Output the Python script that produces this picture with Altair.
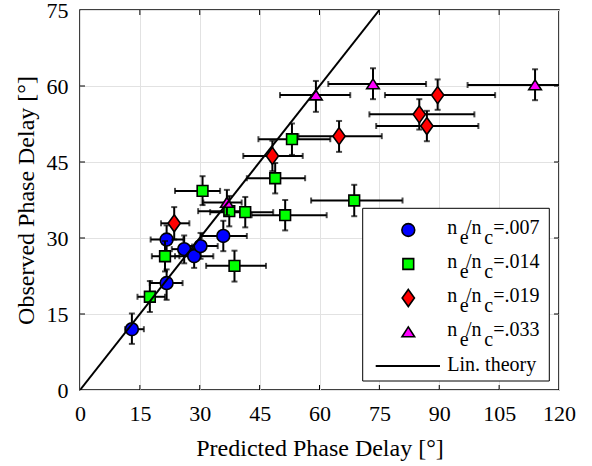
import altair as alt
import pandas as pd

# ---------------- data ----------------
# n_e/n_c = .007 (blue circles)
b_x   = [13.0, 21.7, 21.7, 26.1, 28.6, 30.2, 35.9]
b_y   = [12.0, 29.7, 21.1, 27.8, 26.4, 28.4, 30.4]
b_xlo = [11.3, 17.7, 17.5, 23.0, 23.8, 26.0, 30.5]
b_xhi = [16.0, 25.9, 25.7, 30.0, 33.4, 34.5, 41.8]
b_ylo = [9.1, 27.0, 17.8, 25.0, 24.1, 25.9, 27.4]
b_yhi = [15.1, 32.5, 23.8, 30.5, 28.7, 31.0, 33.4]

# n_e/n_c = .014 (green squares)
g_x   = [17.5, 21.3, 30.7, 37.4, 41.4, 38.7, 51.4, 68.7, 48.9, 53.1]
g_y   = [18.4, 26.4, 39.3, 35.3, 35.1, 24.5, 34.5, 37.4, 41.8, 49.5]
g_xlo = [14.4, 18.0, 23.8, 29.6, 32.6, 31.6, 43.0, 57.9, 41.8, 44.7]
g_xhi = [21.3, 24.9, 35.1, 42.6, 48.4, 46.6, 61.8, 80.8, 56.4, 62.7]
g_ylo = [15.4, 23.4, 36.5, 32.3, 32.1, 21.4, 31.5, 34.3, 38.8, 46.4]
g_yhi = [21.5, 29.4, 42.2, 38.3, 38.1, 27.5, 37.5, 40.5, 44.8, 52.6]

# n_e/n_c = .019 (red diamonds)
r_x   = [23.6, 48.2, 64.9, 89.6, 85.0, 86.9]
r_y   = [32.9, 46.2, 50.1, 58.2, 54.4, 52.1]
r_xlo = [20.3, 40.9, 54.7, 76.4, 72.5, 74.2]
r_xhi = [27.4, 55.8, 75.6, 104.0, 98.8, 99.8]
r_ylo = [29.7, 43.2, 47.0, 55.3, 51.4, 49.1]
r_yhi = [36.1, 49.2, 53.1, 61.3, 57.4, 55.1]

# n_e/n_c = .033 (magenta triangles)
m_x   = [36.8, 59.1, 73.4, 114.0]
m_y   = [37.0, 58.2, 60.4, 60.2]
m_xlo = [30.9, 50.1, 62.2, 97.1]
m_xhi = [40.5, 67.7, 86.7, 131.0]
m_ylo = [34.5, 54.9, 57.4, 57.2]
m_yhi = [39.5, 61.0, 63.5, 63.3]

# linear theory
lin_x = [0, 75]
lin_y = [0, 75]

x_ticks = [0, 15, 30, 45, 60, 75, 90, 105, 120]
y_ticks = [0, 15, 30, 45, 60, 75]
legend_labels = [".007", ".014", ".019", ".033"]
legend_theory = "Lin. theory"

FONT = "Liberation Serif"
W, H = 479, 380

xscale = alt.Scale(domain=[0, 120], nice=False, zero=False)
yscale = alt.Scale(domain=[0, 75], nice=False, zero=False)
xaxis = alt.Axis(values=x_ticks, labelFlush=False, labelPadding=13,
                 titlePadding=12, title="Predicted Phase Delay [°]")
yaxis = alt.Axis(values=y_ticks, labelPadding=12, titlePadding=8,
                 title="Observed Phase Delay [°]")


def X(f):
    return alt.X(f, type="quantitative", scale=xscale, axis=xaxis)


def Y(f):
    return alt.Y(f, type="quantitative", scale=yscale, axis=yaxis)


DIAMOND = "M0,-1L0.72,0L0,1L-0.72,0Z"
TRIANGLE = "M0,-0.8L1,0.75L-1,0.75Z"

series = [
    (b_x, b_y, b_xlo, b_xhi, b_ylo, b_yhi, "circle", "#0000ff", 165),
    (g_x, g_y, g_xlo, g_xhi, g_ylo, g_yhi, "square", "#00ff00", 115),
    (r_x, r_y, r_xlo, r_xhi, r_ylo, r_yhi, DIAMOND, "#ff0000", 290),
    (m_x, m_y, m_xlo, m_xhi, m_ylo, m_yhi, TRIANGLE, "#ff00ff", 160),
]

layers = []

# inward axis ticks on all four sides (box style)
tx = pd.DataFrame({"t": x_ticks[1:-1]})
ty = pd.DataFrame({"t": y_ticks[1:-1]})
tick_len_x = 5 / (H / 75)
tick_len_y = 5 / (W / 120)
layers.append(alt.Chart(tx).mark_rule(color="black", strokeWidth=1).encode(
    x=X("t"), y=alt.Y(datum=0, scale=yscale, axis=yaxis), y2=alt.Y2(datum=tick_len_x)))
layers.append(alt.Chart(tx).mark_rule(color="black", strokeWidth=1).encode(
    x=X("t"), y=alt.Y(datum=75, scale=yscale, axis=yaxis), y2=alt.Y2(datum=75 - tick_len_x)))
layers.append(alt.Chart(ty).mark_rule(color="black", strokeWidth=1).encode(
    y=Y("t"), x=alt.X(datum=0, scale=xscale, axis=xaxis), x2=alt.X2(datum=tick_len_y)))
layers.append(alt.Chart(ty).mark_rule(color="black", strokeWidth=1).encode(
    y=Y("t"), x=alt.X(datum=120, scale=xscale, axis=xaxis), x2=alt.X2(datum=120 - tick_len_y)))

for xs, ys, xlo, xhi, ylo, yhi, shape, col, size in series:
    df = pd.DataFrame({"x": xs, "y": ys, "xlo": xlo, "xhi": xhi, "ylo": ylo, "yhi": yhi})
    base = alt.Chart(df)
    layers.append(base.mark_rule(color="black", strokeWidth=2, clip=True).encode(
        x=X("xlo"), x2="xhi", y=Y("y")))
    layers.append(base.mark_rule(color="black", strokeWidth=2, clip=True).encode(
        x=X("x"), y=Y("ylo"), y2="yhi"))
    for f in ["xlo", "xhi"]:
        layers.append(base.mark_tick(orient="vertical", color="black", size=6,
                                     thickness=2, clip=True).encode(x=X(f), y=Y("y")))
    for f in ["ylo", "yhi"]:
        layers.append(base.mark_tick(orient="horizontal", color="black", size=6,
                                     thickness=2, clip=True).encode(x=X("x"), y=Y(f)))
    layers.append(base.mark_point(shape=shape, size=size, filled=True, color=col,
                                  fill=col, stroke="black", strokeWidth=1.6,
                                  opacity=1, fillOpacity=1, strokeOpacity=1).encode(
        x=X("x"), y=Y("y")))

# linear theory line
lin_df = pd.DataFrame({"x": lin_x, "y": lin_y})
layers.append(alt.Chart(lin_df).mark_line(color="black", strokeWidth=2, clip=True).encode(
    x=X("x"), y=Y("y")))

# ---------------- legend (decoration, pixel placement) ----------------
one = pd.DataFrame({"k": [0]})
BOX = dict(x0=282.7, x1=469.3, y0=198.3, y1=371)
layers.append(alt.Chart(one).mark_rect(fill="white", stroke="black", strokeWidth=1).encode(
    x=alt.value(BOX["x0"]), x2=alt.value(BOX["x1"]),
    y=alt.value(BOX["y0"]), y2=alt.value(BOX["y1"])))

SYM_X = 328.3
TXT_X = 367.3
ROW0, DROW = 220, 34
LFS = 20
for i, (lab, s) in enumerate(zip(legend_labels, series)):
    cy = ROW0 + DROW * i
    shape, col, size = s[6], s[7], s[8]
    layers.append(alt.Chart(one).mark_point(shape=shape, size=size, filled=True, color=col,
                                            fill=col, stroke="black", strokeWidth=1.6,
                                            opacity=1).encode(
        x=alt.value(SYM_X), y=alt.value(cy)))
    base_y = cy + 4
    parts = [("n", 0, 0), ("e", 12.5, 9.5), ("/n", 18.7, 0), ("c", 37, 9.5), ("=" + lab, 46, 0)]
    for txt, dx, dy in parts:
        layers.append(alt.Chart(one).mark_text(text=txt, font=FONT, fontSize=LFS,
                                               align="left", baseline="alphabetic",
                                               color="black").encode(
            x=alt.value(TXT_X + dx), y=alt.value(base_y + dy)))

cy = ROW0 + DROW * 4
layers.append(alt.Chart(one).mark_rule(color="black", strokeWidth=2).encode(
    x=alt.value(295.7), x2=alt.value(360), y=alt.value(cy)))
layers.append(alt.Chart(one).mark_text(text=legend_theory, font=FONT, fontSize=LFS,
                                       align="left", baseline="alphabetic",
                                       color="black").encode(
    x=alt.value(TXT_X), y=alt.value(cy + 5)))

chart = alt.layer(*layers).properties(
    width=W, height=H,
    padding={"left": 80, "top": 10, "right": 33, "bottom": 76},
    autosize=alt.AutoSizeParams(type="none"),
).configure_view(
    stroke="black", strokeWidth=1.5
).configure_axis(
    grid=True, gridColor="#e2e2e2", gridWidth=1, domain=False, ticks=False,
    labelFont=FONT, labelFontSize=22, labelColor="black",
    titleFont=FONT, titleFontSize=24, titleFontWeight="normal", titleColor="black",
)

chart.save("out.html", embed_options={"renderer": "svg", "actions": False})
